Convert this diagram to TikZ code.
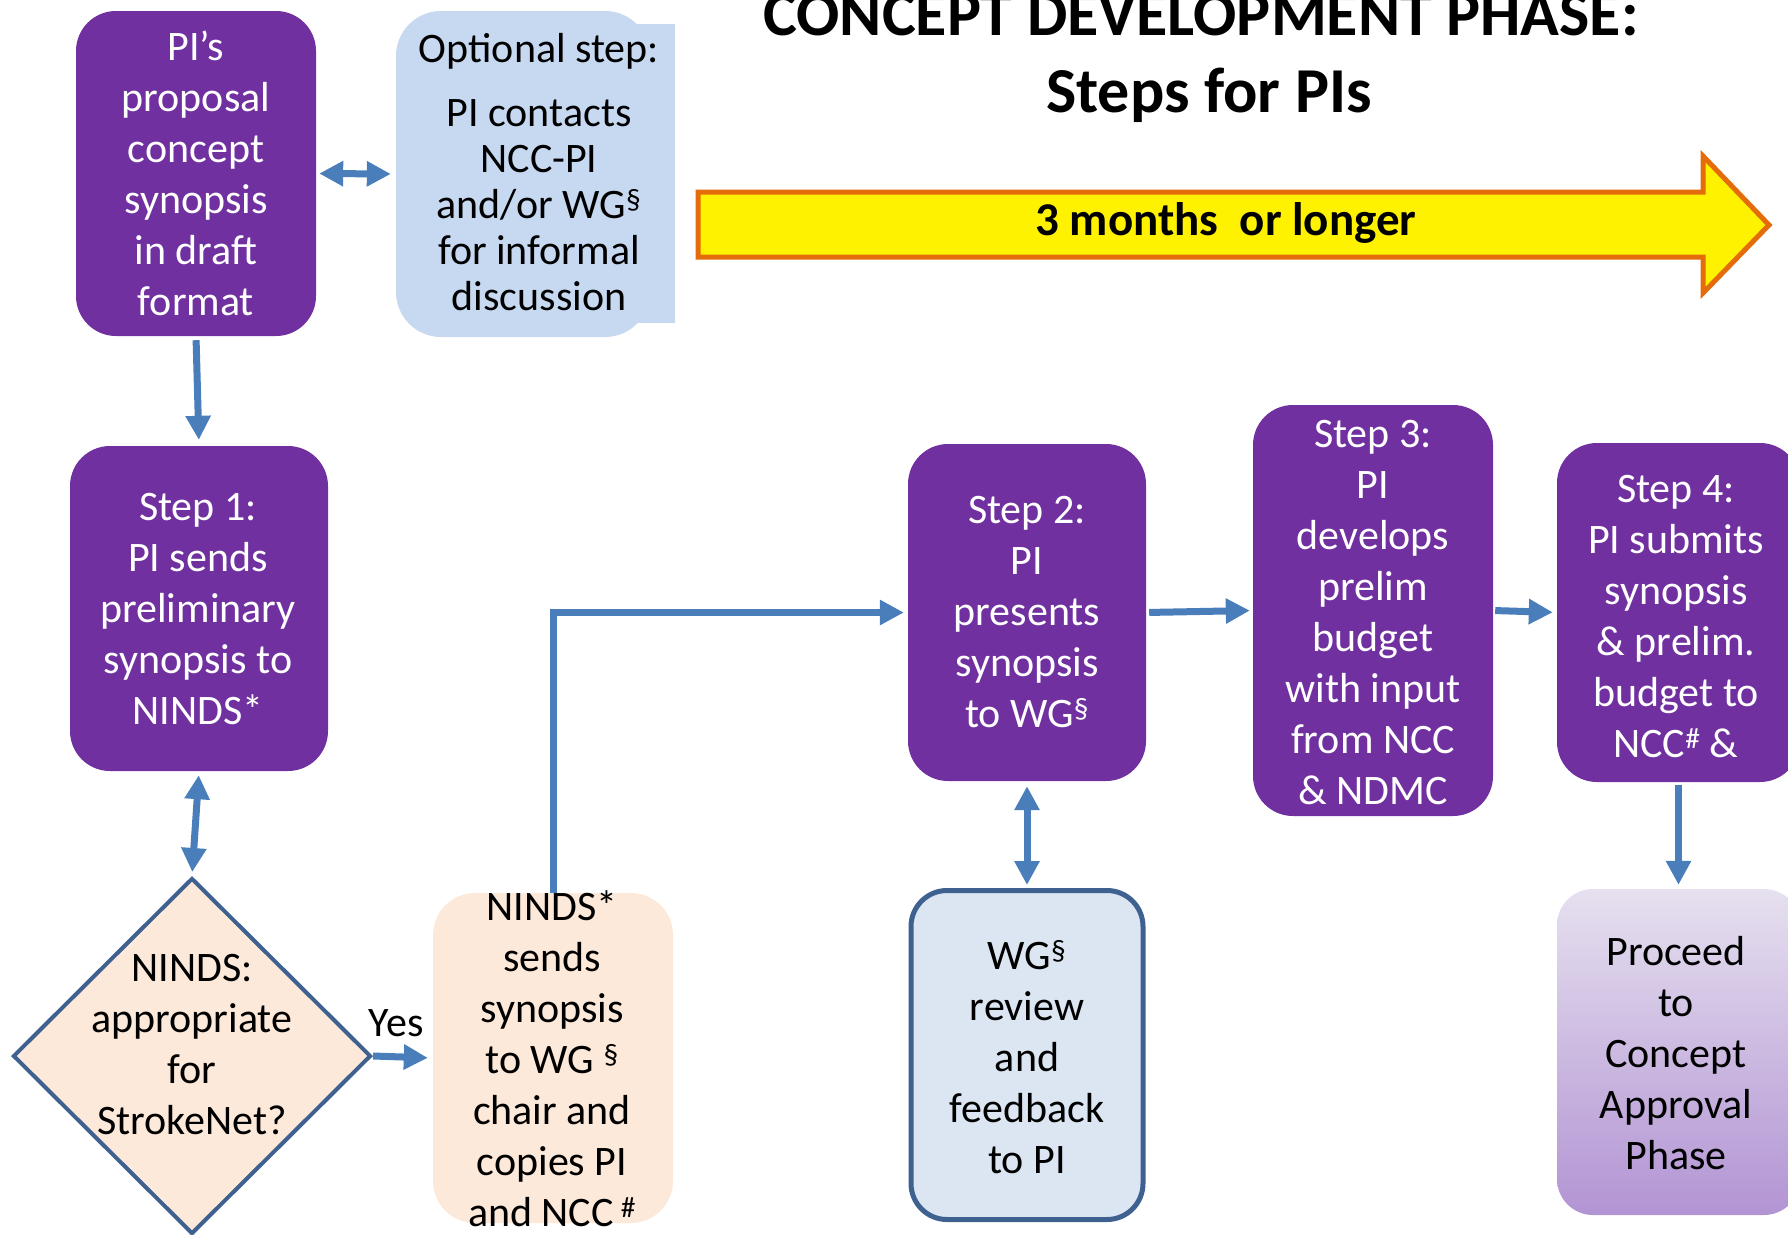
\documentclass[tikz,border=0pt]{standalone}
\usepackage{fontspec}
\setmainfont{Carlito}
\usetikzlibrary{shapes.geometric,arrows.meta}
\definecolor{purp}{HTML}{7030A0}
\definecolor{lblue}{HTML}{C6D9F1}
\definecolor{peach}{HTML}{FDE9D9}
\definecolor{wfill}{HTML}{DCE6F2}
\definecolor{dkblue}{HTML}{3F6190}
\definecolor{arrblue}{HTML}{4A7EBB}
\definecolor{orng}{HTML}{E46C0A}
\definecolor{ptop}{HTML}{E6E0EF}
\definecolor{pbot}{HTML}{B294D3}
\begin{document}
\begin{tikzpicture}[x=1pt,y=-1pt,
  pbox/.style={rectangle,rounded corners=40,fill=purp,inner sep=0},
  bbox/.style={rectangle,rounded corners=45,fill=lblue,inner sep=0},
  cbox/.style={rectangle,rounded corners=42,fill=peach,inner sep=0},
  wbox/.style={rectangle,rounded corners=36,fill=wfill,draw=dkblue,line width=5,inner sep=0},
  prbox/.style={rectangle,rounded corners=36,top color=ptop,bottom color=pbot,inner sep=0},
  diam/.style={diamond,fill=peach,draw=dkblue,line width=4,inner sep=0,minimum width=358,minimum height=356},
  txt/.style={font=\fontsize{42}{51}\selectfont,align=center,inner sep=0},
  wtxt/.style={txt,text=white},
  conn/.style={draw=arrblue,line width=7,-{Triangle[length=24pt,width=24pt]}},
  dconn/.style={draw=arrblue,line width=7,{Triangle[length=24pt,width=24pt]}-{Triangle[length=24pt,width=24pt]}},
  ttl/.style={font=\fontsize{64}{70}\selectfont\bfseries,inner sep=0}]
\useasboundingbox (0,0) rectangle (1788,1234);
% title
\node[ttl,anchor=base] (title1) at (1201,35) {CONCEPT DEVELOPMENT PHASE:};
\node[ttl,anchor=base] (title2) at (1209,112) {Steps for PIs};
% time arrow
\draw[fill=yellow,draw=orng,line width=5,line join=miter]
  (698,192) -- (1703,192) -- (1703,156) -- (1769,225) -- (1703,293) -- (1703,257) -- (698,257) -- cycle;
\node[inner sep=0,font=\fontsize{47}{50}\selectfont\bfseries] (dur) at (1226,223) {3 months~ or longer};
% boxes
\node[pbox,minimum width=240,minimum height=325] (A) at (196,173.5) {};
\node[bbox,minimum width=254,minimum height=326] (B) at (523,174) {};
\fill[lblue] (600,24) rectangle (675,323);
\node[pbox,minimum width=258,minimum height=325] (S1) at (199,608.5) {};
\node[diam] (D) at (192,1056) {};
\node[cbox,minimum width=240,minimum height=330] (C) at (553,1058) {};
\node[pbox,minimum width=238,minimum height=337] (S2) at (1027,612.5) {};
\node[wbox,minimum width=232,minimum height=329] (W) at (1027,1055) {};
\node[pbox,minimum width=240,minimum height=411] (S3) at (1373,610.5) {};
\node[pbox,minimum width=243,minimum height=339] (S4) at (1678.5,612.5) {};
\node[prbox,minimum width=243,minimum height=326] (P) at (1678.5,1052) {};
% texts
\node[wtxt] (tA) at (196,173) {PI’s\\proposal\\concept\\synopsis\\in draft\\format};
\node[txt,font=\fontsize{42}{46}\selectfont] (tB) at (539,172) {Optional step:\\[18pt]PI contacts\\NCC-PI\\and/or WG\textsuperscript{§}\\for informal\\discussion};
\node[wtxt] (tS1) at (198,609) {Step 1:\\PI sends\\preliminary\\synopsis to\\NINDS*};
\node[txt] (tD) at (192,1045) {NINDS:\\appropriate\\for\\StrokeNet?};
\node[txt] (yes) at (396,1023) {Yes};
\node[txt] (tC) at (552,1059) {NINDS*\\sends\\synopsis\\to WG \textsuperscript{§}\\chair and\\copies PI\\and NCC\,\textsuperscript{\#}};
\node[wtxt] (tS2) at (1027,612) {Step 2:\\PI\\presents\\synopsis\\to WG\textsuperscript{§}};
\node[txt] (tW) at (1027,1057) {WG\textsuperscript{§}\\review\\and\\feedback\\to PI};
\node[wtxt] (tS3) at (1373,613) {Step 3:\\PI\\develops\\prelim\\budget\\with input\\from NCC\\\& NDMC};
\node[wtxt] (tS4) at (1676,617) {Step 4:\\PI submits\\synopsis\\\& prelim.\\budget to\\NCC\textsuperscript{\#} \&};
\node[txt] (tP) at (1676,1053) {Proceed\\to\\Concept\\Approval\\Phase};
% connectors
\draw[conn,shorten <=4,shorten >=6] (A.south) -- (S1.north);
\draw[dconn,shorten <=3,shorten >=5] (A.east) -- (B.west);
\draw[dconn,shorten <=4,shorten >=4] (S1.south) -- (D.north);
\draw[conn,shorten >=5] (D.east) -- (C.west);
\draw[conn,shorten >=4] (C.north) |- (S2.west);
\draw[conn,shorten <=3,shorten >=3] (S2.east) -- (S3.west);
\draw[conn,shorten <=2,shorten >=4] (S3.east) -- (S4.west);
\draw[dconn,shorten <=5,shorten >=3] (S2.south) -- (W.north);
\draw[conn,shorten <=3,shorten >=4] (S4.south) -- (P.north);
\end{tikzpicture}
\end{document}
